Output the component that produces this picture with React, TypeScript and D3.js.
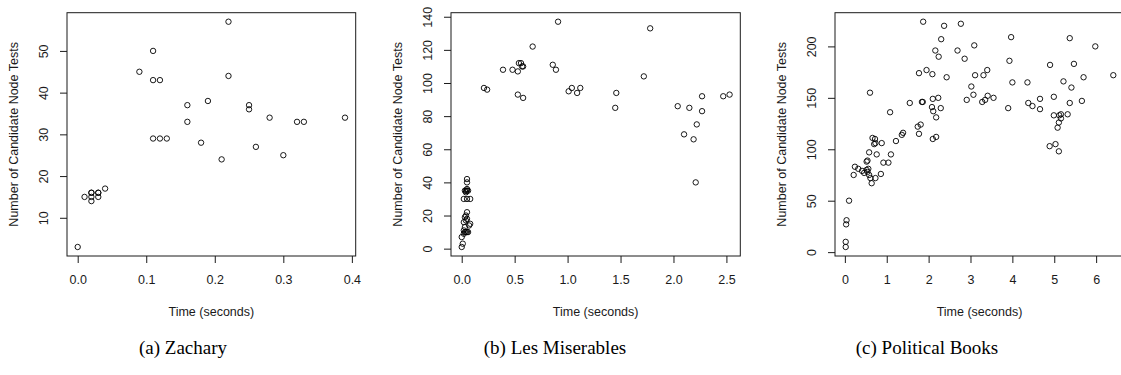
import React, { useEffect, useRef } from "react";
import * as d3 from "d3";

// [time in seconds, number of candidate node tests]
const zacharyPoints: [number, number][] = [
    [0.0, 3], [0.01, 15], [0.02, 14], [0.02, 15], [0.02, 16], [0.02, 16], [0.03, 15], [0.03, 16], [0.03, 16], [0.04, 17],
    [0.09, 45], [0.11, 50], [0.11, 43], [0.12, 43], [0.11, 29], [0.12, 29], [0.13, 29],
    [0.16, 37], [0.16, 33], [0.18, 28], [0.19, 38], [0.21, 24], [0.22, 57], [0.22, 44],
    [0.25, 37], [0.25, 36], [0.26, 27], [0.28, 34], [0.30, 25], [0.32, 33], [0.33, 33], [0.39, 34],
];

const lesMiserablesPoints: [number, number][] = [
    [0.0, 1], [0.01, 3], [0.0, 7], [0.02, 9], [0.03, 10], [0.04, 10], [0.05, 10], [0.06, 10], [0.02, 11], [0.03, 13],
    [0.02, 16], [0.08, 15], [0.07, 14], [0.04, 17], [0.05, 18], [0.03, 19], [0.04, 20], [0.05, 22],
    [0.02, 30], [0.05, 30], [0.08, 30], [0.03, 35], [0.04, 35], [0.05, 35], [0.06, 35], [0.04, 34], [0.05, 36],
    [0.05, 40], [0.05, 42],
    [0.21, 97], [0.24, 96], [0.39, 108], [0.48, 108], [0.53, 107], [0.54, 112], [0.56, 112], [0.57, 110], [0.58, 110],
    [0.53, 93], [0.58, 91], [0.67, 122], [0.86, 111], [0.89, 108], [0.91, 137],
    [1.01, 95], [1.04, 97], [1.09, 94], [1.12, 97], [1.45, 85], [1.46, 94], [1.72, 104], [1.78, 133],
    [2.04, 86], [2.10, 69], [2.15, 85], [2.19, 66], [2.21, 40], [2.22, 75], [2.27, 92], [2.27, 83],
    [2.47, 92], [2.53, 93],
];

const politicalBooksPoints: [number, number][] = [
    [0.02, 5], [0.02, 10], [0.03, 27], [0.04, 31], [0.10, 50],
    [0.21, 75], [0.24, 83], [0.32, 81], [0.41, 79], [0.46, 77], [0.52, 80], [0.56, 81], [0.54, 78], [0.58, 75],
    [0.61, 72], [0.64, 67], [0.73, 72], [0.86, 76], [0.52, 88], [0.54, 89], [0.58, 97], [0.76, 95], [0.92, 87], [1.04, 87],
    [0.66, 111], [0.72, 110], [0.70, 105], [0.73, 106], [0.88, 106], [1.10, 95], [1.08, 136], [1.22, 108],
    [1.36, 114], [1.39, 116], [1.55, 145], [0.60, 155],
    [1.74, 122], [1.81, 124], [1.77, 115], [1.84, 146], [1.86, 146], [1.77, 174], [1.95, 177], [2.09, 173], [1.87, 224],
    [2.10, 149], [2.23, 150], [2.08, 141], [2.11, 137], [2.18, 131], [2.29, 140], [2.10, 110], [2.18, 112],
    [2.16, 196], [2.24, 190], [2.30, 207], [2.37, 220], [2.43, 170],
    [2.69, 196], [2.77, 222], [2.86, 188], [3.09, 201], [3.02, 161], [2.91, 148], [3.07, 153], [3.11, 172],
    [3.31, 172], [3.40, 177], [3.28, 146], [3.35, 148], [3.41, 152], [3.55, 150],
    [3.90, 140], [3.93, 186], [3.97, 209], [4.00, 165], [4.36, 165], [4.38, 145], [4.48, 142], [4.66, 149], [4.66, 139],
    [4.90, 182], [4.99, 151], [4.99, 133], [5.12, 133], [5.16, 134], [5.32, 134], [5.16, 130], [5.11, 126], [5.08, 121],
    [4.89, 103], [5.03, 105], [5.11, 98], [5.37, 208], [5.47, 183], [5.22, 166], [5.41, 160], [5.37, 145],
    [5.66, 147], [5.70, 170], [5.98, 200], [6.41, 172],
];

const zacharyXTicks = [0, 0.1, 0.2, 0.3, 0.4];
const zacharyYTicks = [10, 20, 30, 40, 50];
const lesMiserablesXTicks = [0, 0.5, 1, 1.5, 2, 2.5];
const lesMiserablesYTicks = [0, 20, 40, 60, 80, 100, 120, 140];
const politicalBooksXTicks = [0, 1, 2, 3, 4, 5, 6];
const politicalBooksYTicks = [0, 50, 100, 150, 200];

const captions = ["(a) Zachary", "(b) Les Miserables", "(c) Political Books"];
const xTitle = "Time (seconds)";
const yTitle = "Number of Candidate Node Tests";

const panels = [
    { points: zacharyPoints, xTicks: zacharyXTicks, yTicks: zacharyYTicks, xFmt: d3.format(".1f"), left: 67, right: 355.7, captionX: 183 },
    { points: lesMiserablesPoints, xTicks: lesMiserablesXTicks, yTicks: lesMiserablesYTicks, xFmt: d3.format(".1f"), left: 451, right: 740.3, captionX: 555 },
    { points: politicalBooksPoints, xTicks: politicalBooksXTicks, yTicks: politicalBooksYTicks, xFmt: d3.format("d"), left: 835, right: 1124, captionX: 927 },
];

const TOP = 12.7;
const BOTTOM = 256;
const INK = "#1a1a1a";
const SANS = "'Liberation Sans', Arial, sans-serif";

// R pads the data range by 4% on each side
const padRange = (lo: number, hi: number) => {
    const d = (hi - lo) * 0.04;
    return [lo - d, hi + d];
};

const App = () => {
    const svgRef = useRef<SVGSVGElement>(null);

    useEffect(() => {
        const svg = d3.select(svgRef.current);
        svg.selectAll("*").remove();

        panels.forEach((p, i) => {
            const [x0, x1] = d3.extent(p.points, d => d[0]) as [number, number];
            const [y0, y1] = d3.extent(p.points, d => d[1]) as [number, number];
            const x = d3.scaleLinear().domain(padRange(x0, x1)).range([p.left, p.right]);
            const y = d3.scaleLinear().domain(padRange(y0, y1)).range([BOTTOM, TOP]);

            const g = svg.append("g");

            // x axis
            const xg = g.append("g")
                .attr("transform", `translate(0,${BOTTOM})`)
                .call(d3.axisBottom(x).tickValues(p.xTicks).tickFormat(p.xFmt as any)
                    .tickSizeInner(7).tickSizeOuter(0).tickPadding(12.6));
            xg.select(".domain").remove();
            xg.selectAll("line").attr("stroke", INK);
            xg.selectAll("text").attr("fill", INK).attr("font-size", 12.5).attr("font-family", SANS);

            // y axis, labels parallel to the axis like R
            const yg = g.append("g")
                .attr("transform", `translate(${p.left},0)`)
                .call(d3.axisLeft(y).tickValues(p.yTicks).tickSizeInner(7).tickSizeOuter(0));
            yg.select(".domain").remove();
            yg.selectAll("line").attr("stroke", INK);
            yg.selectAll(".tick text")
                .attr("transform", "rotate(-90)")
                .attr("text-anchor", "middle")
                .attr("dominant-baseline", "central")
                .attr("x", 0)
                .attr("y", -23.5)
                .attr("dy", null)
                .attr("fill", INK)
                .attr("font-size", 12.5)
                .attr("font-family", SANS);

            // frame
            g.append("rect")
                .attr("x", p.left)
                .attr("y", TOP)
                .attr("width", p.right - p.left)
                .attr("height", BOTTOM - TOP)
                .attr("fill", "none")
                .attr("stroke", INK)
                .attr("stroke-width", 1);

            // points
            g.selectAll("circle")
                .data(p.points)
                .enter()
                .append("circle")
                .attr("cx", d => x(d[0]))
                .attr("cy", d => y(d[1]))
                .attr("r", 2.7)
                .attr("fill", "none")
                .attr("stroke", "#000")
                .attr("stroke-width", 0.9);

            // axis titles
            g.append("text")
                .attr("x", (p.left + p.right) / 2)
                .attr("y", 311.5)
                .attr("text-anchor", "middle")
                .attr("dominant-baseline", "central")
                .attr("font-size", 12.5)
                .attr("font-family", SANS)
                .attr("fill", INK)
                .text(xTitle);

            g.append("text")
                .attr("transform", `translate(${p.left - 53},${(TOP + BOTTOM) / 2}) rotate(-90)`)
                .attr("text-anchor", "middle")
                .attr("dominant-baseline", "central")
                .attr("font-size", 12.5)
                .attr("font-family", SANS)
                .attr("fill", INK)
                .text(yTitle);

            // sub-figure caption
            g.append("text")
                .attr("x", p.captionX)
                .attr("y", 347)
                .attr("text-anchor", "middle")
                .attr("dominant-baseline", "central")
                .attr("font-size", 19)
                .attr("font-family", "'Liberation Serif', 'DejaVu Serif', serif")
                .attr("fill", "#000")
                .text(captions[i]);
        });
    }, []);

    return (
        <div style={{ position: "absolute", left: 0, top: 0, width: 1121, height: 375, background: "#fff" }}>
            <svg ref={svgRef} width={1121} height={375} style={{ display: "block" }} />
        </div>
    );
};

export default App;
